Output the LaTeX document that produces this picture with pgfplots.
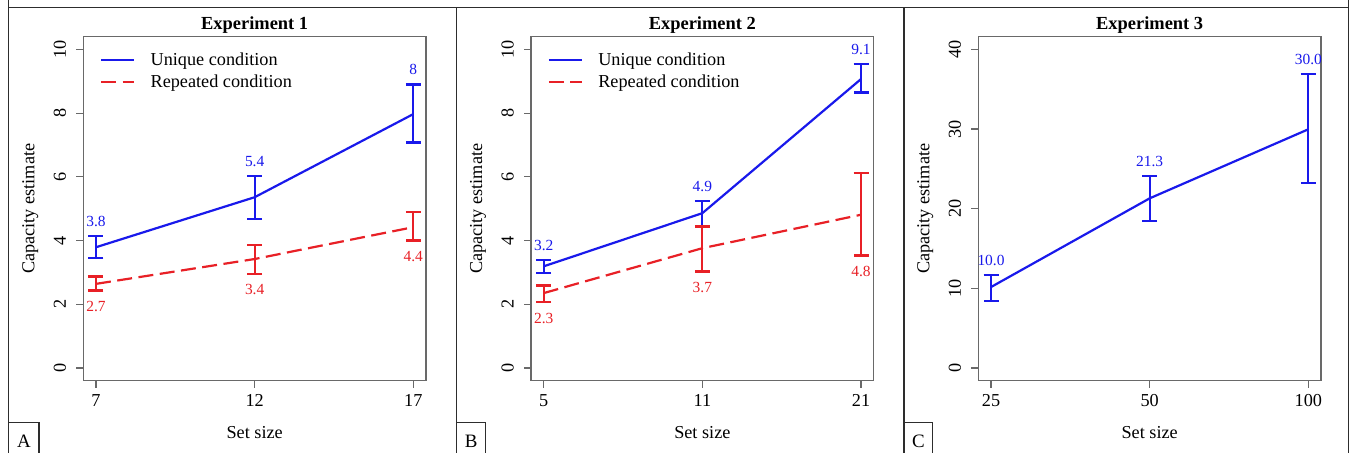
\documentclass[border=0pt]{standalone}
\usepackage{pgfplots}
\pgfplotsset{compat=1.18}
\usepackage{pgfplotstable}
\usepackage{fontspec}
\setmainfont{Liberation Serif}

\definecolor{cblue}{RGB}{25,25,235}
\definecolor{cred}{RGB}{232,32,38}
\definecolor{boxgray}{RGB}{105,105,105}
\definecolor{framegray}{RGB}{45,45,45}

% Experiment 1
\pgfplotstableread{
x y ep em
0 3.79 0.35 0.35
1 5.36 0.67 0.68
2 7.97 0.93 0.89
}\expOneU
\pgfplotstableread{
x y ep em
0 2.64 0.23 0.21
1 3.42 0.43 0.46
2 4.42 0.47 0.42
}\expOneR
% Experiment 2
\pgfplotstableread{
x y ep em
0 3.19 0.21 0.21
1 4.86 0.39 0.42
2 9.07 0.46 0.42
}\expTwoU
\pgfplotstableread{
x y ep em
0 2.35 0.24 0.28
1 3.76 0.68 0.73
2 4.81 1.32 1.28
}\expTwoR
% Experiment 3
\pgfplotstableread{
x y ep em
0 10.16 1.54 1.80
1 21.30 2.80 2.80
2 29.97 6.93 6.77
}\expThree

\tikzset{lab/.style={font=\fontsize{15.5}{18}\selectfont, inner sep=0pt}}

\pgfplotsset{
  panel/.style={
    scale only axis, width=342.7bp, height=344bp,
    clip=false,
    axis line style={boxgray, line width=1.2bp},
    every tick/.style={boxgray, line width=1.2bp},
    tick align=outside, major tick length=7bp,
    xtick pos=left, ytick pos=left,
    xmin=-0.08, xmax=2.08, xtick={0,1,2},
    /pgf/number format/assume math mode=true,
    xticklabel style={anchor=base, inner sep=0pt, yshift=-19.2bp},
    yticklabel style={xshift=-10.4bp, rotate=90, anchor=base, inner sep=0pt},
    every axis title/.style={at={(axis description cs:0.5,1.0215)}, anchor=base, font=\fontsize{18.5}{22}\selectfont\bfseries},
    every axis x label/.style={at={(axis description cs:0.5,-0.1674)}, anchor=base},
    every axis y label/.style={at={(axis description cs:-0.143,0.5)}, rotate=90, anchor=base},
    xlabel={Set size}, ylabel={Capacity estimate},
    legend cell align=left,
    legend style={draw=none, fill=none, at={(axis description cs:0.0487,0.952)}, anchor=north west,
      inner sep=0pt, outer sep=0pt, row sep=7.9bp, column sep=15.4bp, nodes={inner sep=0pt}},
    legend image code/.code={\draw[#1] (0bp,0bp) -- (33bp,0bp);},
  },
  ublue/.style={cblue, line width=2.2bp, mark=none,
    error bars/.cd, y dir=both, y explicit, error mark=-,
    error bar style={cblue, line width=2.2bp, solid},
    error mark options={rotate=90, cblue, line width=2.2bp, mark size=7.5bp, solid}},
  rred/.style={cred, line width=2.2bp, mark=none, dash pattern=on 15bp off 6.5bp,
    error bars/.cd, y dir=both, y explicit, error mark=-,
    error bar style={cred, line width=2.2bp, solid},
    error mark options={rotate=90, cred, line width=2.2bp, mark size=7.5bp, solid}},
}

\begin{document}
\begin{tikzpicture}[x=1bp, y=1bp, font=\fontsize{18.3}{22}\selectfont]
\path[use as bounding box] (0,0) rectangle (1357,453);

% outer frames
\begin{scope}[framegray, line width=1.4bp]
\draw (8.3,453) -- (8.3,445.7) -- (1348.3,445.7) -- (1348.3,453);
\draw (8.3,445.7) -- (8.3,0);
\draw (456.7,445.7) -- (456.7,0);
\draw (904,445.7) -- (904,0);
\draw (1348.3,445.7) -- (1348.3,0);
\draw (8.3,30.7) -- (39,30.7) -- (39,0);
\draw (456.7,30.7) -- (485.7,30.7) -- (485.7,0);
\draw (904,30.7) -- (932.7,30.7) -- (932.7,0);
\end{scope}
\node[anchor=base, inner sep=0pt, font=\fontsize{19}{22}\selectfont] at (24,5.8) {A};
\node[anchor=base, inner sep=0pt, font=\fontsize{19}{22}\selectfont] at (471.2,5.8) {B};
\node[anchor=base, inner sep=0pt, font=\fontsize{19}{22}\selectfont] at (918.3,5.8) {C};

% Panel A
\begin{axis}[panel, at={(83.3bp,72.3bp)}, anchor=south west,
  title={Experiment 1}, ymin=-0.4, ymax=10.4, ytick={0,2,4,6,8,10},
  xticklabels={7,12,17}]
\addplot[ublue] table[x=x, y=y, y error plus=ep, y error minus=em]{\expOneU};
\addlegendentry{Unique condition}
\addplot[rred] table[x=x, y=y, y error plus=ep, y error minus=em]{\expOneR};
\addlegendentry{Repeated condition}
\node[lab, cblue, anchor=base, yshift=9.5bp] at (axis cs:0,4.14) {3.8};
\node[lab, cblue, anchor=base, yshift=9.5bp] at (axis cs:1,6.03) {5.4};
\node[lab, cblue, anchor=base, yshift=9.5bp] at (axis cs:2,8.90) {8};
\node[lab, cred, anchor=base, yshift=-21bp] at (axis cs:0,2.43) {2.7};
\node[lab, cred, anchor=base, yshift=-21bp] at (axis cs:1,2.96) {3.4};
\node[lab, cred, anchor=base, yshift=-21bp] at (axis cs:2,4.00) {4.4};
\end{axis}

% Panel B
\begin{axis}[panel, at={(531bp,72.3bp)}, anchor=south west,
  title={Experiment 2}, ymin=-0.4, ymax=10.4, ytick={0,2,4,6,8,10},
  xticklabels={5,11,21}]
\addplot[ublue] table[x=x, y=y, y error plus=ep, y error minus=em]{\expTwoU};
\addlegendentry{Unique condition}
\addplot[rred] table[x=x, y=y, y error plus=ep, y error minus=em]{\expTwoR};
\addlegendentry{Repeated condition}
\node[lab, cblue, anchor=base, yshift=9.5bp] at (axis cs:0,3.40) {3.2};
\node[lab, cblue, anchor=base, yshift=9.5bp] at (axis cs:1,5.25) {4.9};
\node[lab, cblue, anchor=base, yshift=9.5bp] at (axis cs:2,9.53) {9.1};
\node[lab, cred, anchor=base, yshift=-21bp] at (axis cs:0,2.07) {2.3};
\node[lab, cred, anchor=base, yshift=-21bp] at (axis cs:1,3.03) {3.7};
\node[lab, cred, anchor=base, yshift=-21bp] at (axis cs:2,3.53) {4.8};
\end{axis}

% Panel C
\begin{axis}[panel, at={(978.3bp,72.3bp)}, anchor=south west,
  title={Experiment 3}, ymin=-1.6, ymax=41.6, ytick={0,10,20,30,40},
  xticklabels={25,50,100}]
\addplot[ublue] table[x=x, y=y, y error plus=ep, y error minus=em]{\expThree};
\node[lab, cblue, anchor=base, yshift=9.5bp] at (axis cs:0,11.70) {10.0};
\node[lab, cblue, anchor=base, yshift=9.5bp] at (axis cs:1,24.10) {21.3};
\node[lab, cblue, anchor=base, yshift=9.5bp] at (axis cs:2,36.90) {30.0};
\end{axis}
\end{tikzpicture}
\end{document}
